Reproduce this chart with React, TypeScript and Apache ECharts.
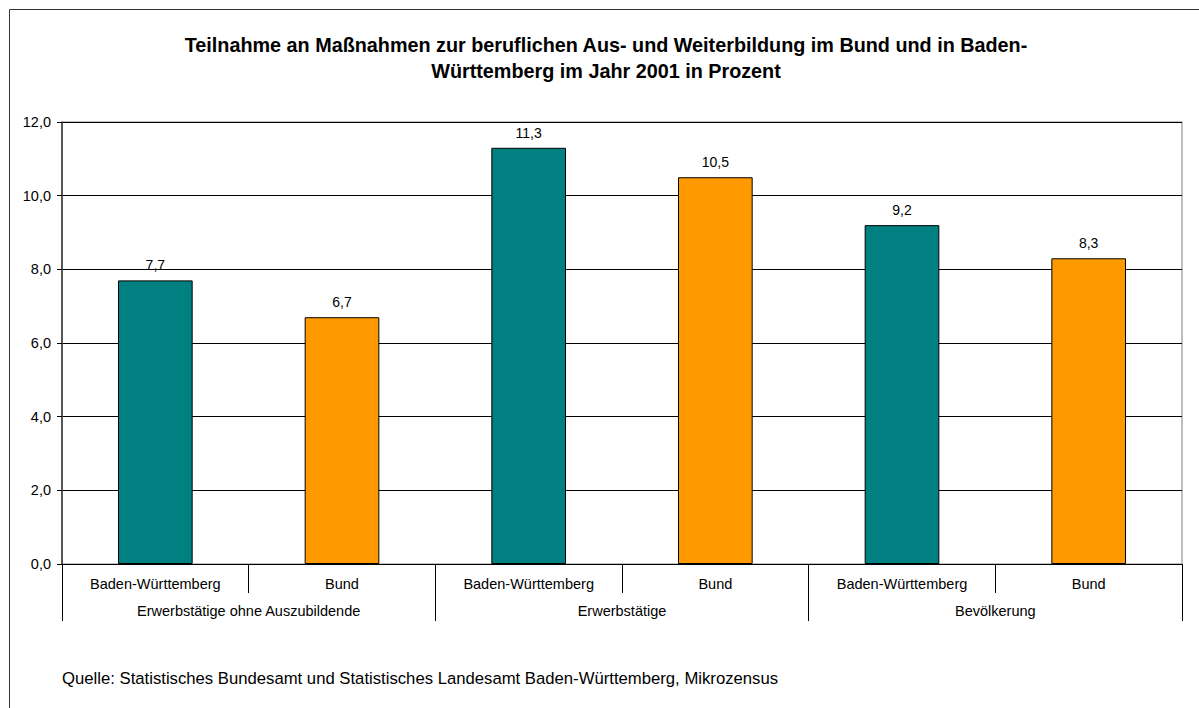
import React, { useEffect, useRef } from "react";
import * as echarts from "echarts";

const titleText =
  "Teilnahme an Maßnahmen zur beruflichen Aus- und Weiterbildung im Bund und in Baden-\nWürttemberg im Jahr 2001 in Prozent";
const sourceText =
  "Quelle: Statistisches Bundesamt und Statistisches Landesamt Baden-Württemberg, Mikrozensus";
const regions = ["Baden-Württemberg", "Bund", "Baden-Württemberg", "Bund", "Baden-Württemberg", "Bund"];
const groups = ["Erwerbstätige ohne Auszubildende", "Erwerbstätige", "Bevölkerung"];
const values = [7.7, 6.7, 11.3, 10.5, 9.2, 8.3];
const regionColors: Record<string, string> = {
  "Baden-Württemberg": "#008080",
  Bund: "#FF9900",
};
const yTicks = { min: 0, max: 12, interval: 2 };

const fmt = (v: number) => v.toFixed(1).replace(".", ",");
const FONT = "'Liberation Sans', Arial, sans-serif";

export default function App() {
  const ref = useRef<HTMLDivElement>(null);
  useEffect(() => {
    if (!ref.current) return;
    const chart = echarts.init(ref.current, null, { renderer: "svg" });
    chart.setOption({
      animation: false,
      backgroundColor: "#ffffff",
      textStyle: { fontFamily: FONT },
      title: {
        text: titleText,
        left: 601,
        top: 27,
        textAlign: "center",
        textStyle: {
          fontFamily: FONT,
          fontSize: 19.8,
          fontWeight: "bold",
          color: "#000",
          lineHeight: 26,
          align: "center",
        },
      },
      grid: {
        left: 62,
        top: 122,
        right: 17,
        bottom: 144,
        show: true,
        borderColor: "#808080",
        borderWidth: 1,
        backgroundColor: "transparent",
      },
      xAxis: [
        {
          type: "category",
          data: regions,
          position: "bottom",
          axisLine: { show: true, lineStyle: { color: "#000", width: 1 } },
          axisTick: { show: true, length: 29, lineStyle: { color: "#000" } },
          axisLabel: {
            interval: 0,
            margin: 12.5,
            fontSize: 14.5,
            color: "#000",
            fontFamily: FONT,
          },
          splitLine: { show: false },
        },
        {
          type: "category",
          data: groups,
          position: "bottom",
          axisLine: { show: false },
          axisTick: { show: true, length: 57, lineStyle: { color: "#000" } },
          axisLabel: {
            interval: 0,
            margin: 39.5,
            fontSize: 14.5,
            color: "#000",
            fontFamily: FONT,
          },
          splitLine: { show: false },
        },
      ],
      yAxis: {
        type: "value",
        min: yTicks.min,
        max: yTicks.max,
        interval: yTicks.interval,
        axisLine: { show: true, lineStyle: { color: "#333", width: 1.5 } },
        axisTick: { show: true, length: 5, lineStyle: { color: "#000" } },
        axisLabel: {
          margin: 11,
          fontSize: 14.5,
          color: "#000",
          fontFamily: FONT,
          formatter: (v: number) => fmt(v),
        },
        splitLine: { show: true, lineStyle: { color: "#000", width: 1 } },
      },
      series: [
        {
          type: "bar",
          xAxisIndex: 0,
          barWidth: "40%",
          data: values.map((v, i) => ({
            value: v,
            itemStyle: {
              color: regionColors[regions[i]],
              borderColor: "#000",
              borderWidth: 1,
            },
          })),
          label: {
            show: true,
            position: "top",
            distance: 8,
            fontSize: 14,
            color: "#000",
            fontFamily: FONT,
            formatter: (p: any) => fmt(p.value),
          },
        },
      ],
      graphic: [
        {
          type: "rect",
          shape: { x: 9.5, y: 9.5, width: 1200, height: 710 },
          style: { fill: "none", stroke: "#333", lineWidth: 1 },
          silent: true,
          z: 100,
        },
        {
          type: "text",
          x: 62,
          y: 678,
          style: {
            text: sourceText,
            font: `16.7px ${FONT}`,
            fill: "#000",
            verticalAlign: "middle",
          },
        },
      ],
    });
    return () => chart.dispose();
  }, []);
  return (
    <div
      ref={ref}
      style={{ position: "absolute", left: 0, top: 0, width: 1199, height: 708 }}
    />
  );
}
